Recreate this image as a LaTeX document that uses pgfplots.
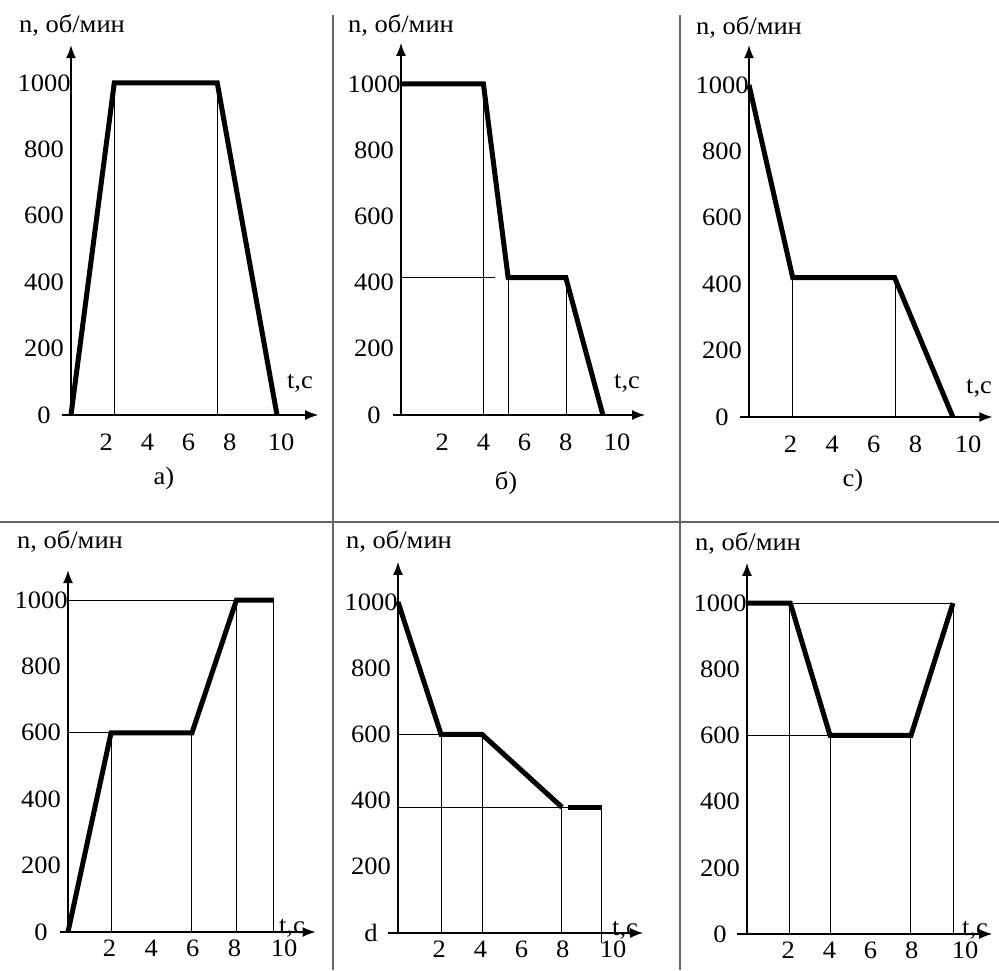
\documentclass[border=0pt]{standalone}
\usepackage{fontspec}
\setmainfont{Liberation Serif}[FakeStretch=1.06]
\usepackage{pgfplots}
\pgfplotsset{compat=1.18}
\usetikzlibrary{arrows.meta}

\pgfplotsset{
  chart/.style={
    scale only axis, clip=false,
    axis lines=left,
    axis line style={line width=0.7pt, -{Latex[length=6.5pt,width=5pt]}},
    xmin=0, ymin=0,
    xtick={2,4,6,8,10},
    ytick={0,200,400,600,800,1000},
    yticklabels={0,200,400,600,800,1000},
    major tick length=0pt,
    tick style={draw=none},
    tick label style={font=\fontsize{12.5}{14}\selectfont},
    yticklabel style={anchor=center, xshift=-13.5pt},
    /pgf/number format/assume math mode=true,
    anchor=south west,
  },
  top/.style={xticklabel style={anchor=center, yshift=-13.5pt}},
  bottom/.style={xticklabel style={anchor=center, yshift=-8pt}},
}
\tikzset{
  thinl/.style={black, line width=0.5pt},
  thickl/.style={black, line width=2.5pt},
  stub/.style={black, line width=0.7pt},
}

\begin{document}
\begin{tikzpicture}[font=\fontsize{12.5}{14}\selectfont]
\useasboundingbox (0,0) rectangle (499.5pt,485pt);
% separators
\draw[black!60, line width=0.6pt] (166.5pt,0) -- (166.5pt,477.5pt);
\draw[black!60, line width=0.6pt] (340pt,0) -- (340pt,477.5pt);
\draw[black!60, line width=0.8pt] (0,224pt) -- (499.5pt,224pt);

% ---------- a) ----------
\begin{axis}[chart, top, at={(35.5pt,277.5pt)}, x=10.3pt, y=0.166pt, xmax=12, ymax=1114,
  xticklabel style={xshift=-3pt},
  xticklabels={2,4,6,8,\hspace*{10pt}10}]
\draw[stub] (axis cs:-0.45,0) -- (axis cs:0,0);
\addplot[thinl] coordinates {(2.1,0) (2.1,1000)};
\addplot[thinl] coordinates {(7.1,0) (7.1,1000)};
\addplot[thickl] coordinates {(0,0) (2.1,1000) (7.1,1000) (10,0)};
\end{axis}
\node at (36pt,472.5pt) {n, об/мин};
\node at (150pt,293.5pt) {t,c};
\node at (82pt,246pt) {a)};

% ---------- b) ----------
\begin{axis}[chart, top, at={(200.5pt,277.5pt)}, x=10.3pt, y=0.1655pt, xmax=11.85, ymax=1124,
  xticklabels={2,4,6,8,\hspace*{10pt}10}]
\draw[stub] (axis cs:-0.4,0) -- (axis cs:0,0);
\addplot[thinl] coordinates {(4,0) (4,1000)};
\addplot[thinl] coordinates {(0,415) (4.56,415)};
\addplot[thinl] coordinates {(5.2,0) (5.2,415)};
\addplot[thinl] coordinates {(8.05,0) (8.05,415)};
\addplot[thickl] coordinates {(0,1000) (4,1000) (5.2,415) (8,415) (9.8,0)};
\end{axis}
\node at (200.5pt,472.5pt) {n, об/мин};
\node at (313.5pt,293.5pt) {t,c};
\node at (253pt,243.5pt) {б)};

% ---------- c) ----------
\begin{axis}[chart, top, at={(374.5pt,276.5pt)}, x=10.4pt, y=0.166pt, xmax=11.7, ymax=1120,
  xticklabels={2,4,6,8,\hspace*{11pt}10}]
\draw[stub] (axis cs:-0.45,0) -- (axis cs:0,0);
\addplot[thinl] coordinates {(2.1,0) (2.1,420)};
\addplot[thinl] coordinates {(7.05,0) (7.05,420)};
\addplot[thickl] coordinates {(0,1000) (2.1,420) (7,420) (9.8,0)};
\end{axis}
\node at (374.5pt,471.5pt) {n, об/мин};
\node at (489.5pt,291pt) {t,c};
\node at (426.5pt,245pt) {c)};

% ---------- d ----------
\begin{axis}[chart, bottom, at={(34pt,19pt)}, x=10.4pt, y=0.166pt, xmax=11.9, ymax=1090,
  xticklabels={2,4,6,8,\hspace*{8pt}10}]
\draw[stub] (axis cs:-0.4,0) -- (axis cs:0,0);
\addplot[thinl] coordinates {(0,600) (2.07,600)};
\addplot[thinl] coordinates {(0,1000) (9.9,1000)};
\addplot[thinl] coordinates {(2.07,0) (2.07,600)};
\addplot[thinl] coordinates {(5.96,0) (5.96,600)};
\addplot[thinl] coordinates {(8.1,0) (8.1,1000)};
\addplot[thinl] coordinates {(9.9,0) (9.9,1000)};
\addplot[thickl] coordinates {(0,0) (2.07,600) (5.96,600) (8.1,1000) (9.9,1000)};
\end{axis}
\node at (35pt,214.5pt) {n, об/мин};
\node[anchor=base, inner sep=0.5pt] at (146pt,18.5pt) {t,c};

% ---------- e ----------
\begin{axis}[chart, bottom, at={(199pt,18.5pt)}, x=10.3pt, y=0.1655pt, xmax=11.9, ymax=1121,
  yticklabels={d,200,400,600,800,1000},
  xticklabels={2,4,6,8,\hspace*{9pt}10}]
\draw[stub] (axis cs:-0.5,0) -- (axis cs:0,0);
\addplot[thinl] coordinates {(0,600) (2.09,600)};
\addplot[thinl] coordinates {(0,380) (9.9,380)};
\addplot[thinl] coordinates {(2.09,0) (2.09,600)};
\addplot[thinl] coordinates {(4.08,0) (4.08,600)};
\addplot[thinl] coordinates {(7.96,0) (7.96,380)};
\addplot[thinl] coordinates {(9.9,-30) (9.9,380)};
\addplot[thickl] coordinates {(0,1000) (2.09,600) (4.08,600) (7.96,380)};
\addplot[thickl] coordinates {(8.25,380) (9.9,380)};
\end{axis}
\node at (199.5pt,214.5pt) {n, об/мин};
\node[anchor=base, inner sep=0.5pt] at (312.5pt,17.5pt) {t,c};

% ---------- f ----------
\begin{axis}[chart, bottom, at={(373.5pt,18pt)}, x=10.3pt, y=0.1655pt, xmax=11.9, ymax=1121,
  xticklabels={2,4,6,8,\hspace*{12pt}10}]
\draw[stub] (axis cs:-0.5,0) -- (axis cs:0,0);
\addplot[thinl] coordinates {(0,1000) (10,1000)};
\addplot[thinl] coordinates {(0,600) (4.03,600)};
\addplot[thinl] coordinates {(2.05,0) (2.05,1000)};
\addplot[thinl] coordinates {(4.03,0) (4.03,600)};
\addplot[thinl] coordinates {(7.96,0) (7.96,600)};
\addplot[thinl] coordinates {(10,0) (10,1000)};
\addplot[thickl] coordinates {(0,1000) (2.1,1000) (4.03,600) (7.96,600) (10,1000)};
\end{axis}
\node at (374pt,213.5pt) {n, об/мин};
\node[anchor=base, inner sep=0.5pt] at (487.5pt,17.5pt) {t,c};
\end{tikzpicture}
\end{document}
